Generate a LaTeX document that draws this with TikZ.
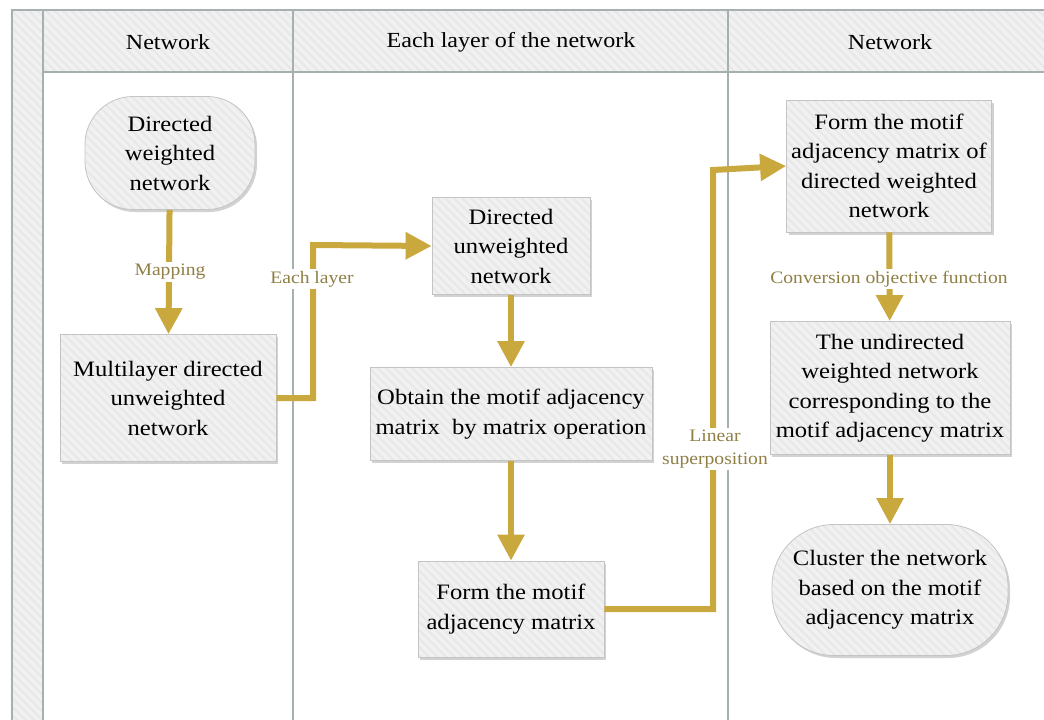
\documentclass[tikz,border=0pt]{standalone}
\usepackage{fontspec}
\setmainfont{Liberation Serif}
\newfontfamily\widefont{Liberation Serif}[FakeStretch=1.12]
\usetikzlibrary{arrows.meta,shadows,patterns.meta}
\definecolor{gold}{HTML}{C9A83E}
\definecolor{labelc}{HTML}{8F7F45}
\definecolor{boxfill}{HTML}{F1F1F1}
\definecolor{hatchc}{HTML}{E8E8E8}
\definecolor{framec}{HTML}{A6B0B0}
\definecolor{boxline}{HTML}{C4C4C4}
\begin{document}
\begin{tikzpicture}[x=1pt,y=-1pt,
  hatch/.style={preaction={fill=boxfill}, pattern={Lines[angle=-45,distance=6pt,line width=2pt]}, pattern color=hatchc},
  box/.style={drop shadow={shadow xshift=2pt,shadow yshift=-2.5pt,opacity=0.35},
    hatch, draw=boxline, line width=0.8pt,
    align=center, font=\widefont\fontsize{22}{29.5}\selectfont, inner sep=0pt},
  frameline/.style={draw=framec, line width=1.3pt},
  arr/.style={draw=gold, line width=6pt, -{Triangle[length=26pt,width=26pt]}},
  lbl/.style={fill=white, text=labelc, font=\widefont\fontsize{17.5}{20}\selectfont, align=center, inner sep=2pt},
  head/.style={font=\widefont\fontsize{21.5}{24}\selectfont}
]
\useasboundingbox (0,0) rectangle (1044,720);
\fill[white] (0,0) rectangle (1044,720);
% swimlane frame
\path[hatch] (12,10) rectangle (43,720);
\path[hatch] (43,10) rectangle (1044,72);
\draw[frameline] (12,720) -- (12,10) -- (1044,10);
\draw[frameline] (43,10) -- (43,720);
\draw[frameline] (43,72) -- (1044,72);
\draw[frameline] (293,10) -- (293,720);
\draw[frameline] (728,10) -- (728,720);
\node[head] (h1) at (168,42) {Network};
\node[head] (h2) at (511,42) {Each layer of the network};
\node[head] (h3) at (890,42) {Network};
% nodes
\node[box, rounded corners=48pt, minimum width=170pt, minimum height=113pt] (A) at (170,153) {Directed\\weighted\\network};
\node[box, minimum width=216pt, minimum height=127pt] (B) at (168,398) {Multilayer directed\\unweighted\\network};
\node[box, minimum width=158pt, minimum height=97pt] (C) at (511,246) {Directed\\unweighted\\network};
\node[box, minimum width=282pt, minimum height=93pt] (D) at (511,414) {Obtain the motif adjacency\\matrix\ \ by matrix operation};
\node[box, minimum width=186pt, minimum height=96pt] (E) at (511,609) {Form the motif\\adjacency matrix};
\node[box, minimum width=205pt, minimum height=132pt] (F) at (889,166) {Form the motif\\adjacency matrix of\\directed weighted\\network};
\node[box, minimum width=240pt, minimum height=133pt] (G) at (890,388) {The undirected\\weighted network\\corresponding to the\\motif adjacency matrix};
\node[box, rounded corners=62pt, minimum width=236pt, minimum height=131pt] (H) at (890,590) {Cluster the network\\based on the motif\\adjacency matrix};
% connectors
\coordinate (bc) at (313,245);
\coordinate (ef) at (713,170);
\draw[arr] (A) -- (B);
\node[lbl] (lmap) at (170,272) {Mapping};
\draw[arr] (B.east) -| (bc) -- (C.west);
\node[lbl] (llay) at (312,279) {Each layer};
\draw[arr] (C) -- (D);
\draw[arr] (D) -- (E);
\draw[arr] (E.east) -| (ef) -- (F.west);
\node[lbl, font=\widefont\fontsize{17.5}{23}\selectfont] (llin) at (715,449) {Linear\\superposition};
\draw[arr] (F) -- (G);
\node[lbl] (lconv) at (889,279) {Conversion objective function};
\draw[arr] (G) -- (H);
\end{tikzpicture}
\end{document}
